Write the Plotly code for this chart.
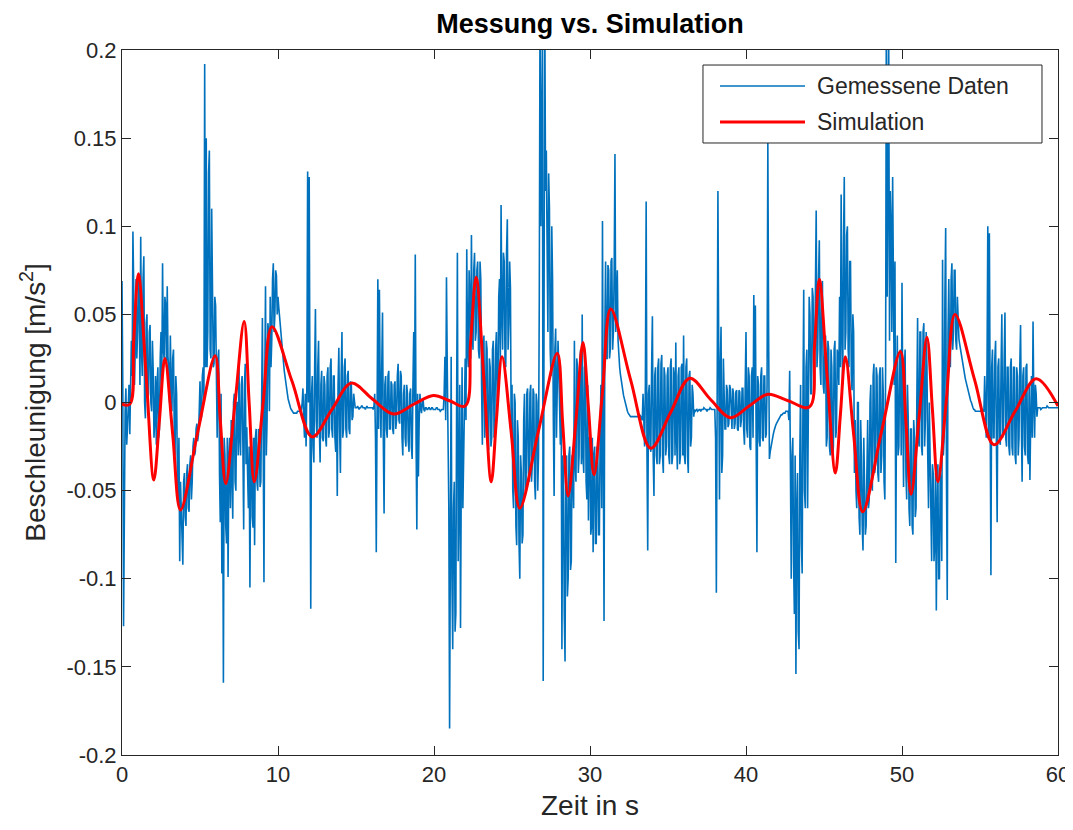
import numpy as np
import plotly.graph_objects as go

# Measured acceleration (thousandths of m/s^2) at t = 0.0, 0.1, ..., 60.0 s
gemessen_milli = [
    69, -127, -5, -24, 6, -18, 35, 97, 10, 70,
    40, 60, 94, 15, 83, -9, 50, 5, 44, -5,
    18, -10, -24, 20, -15, 40, 79, 25, 55, 66,
    20, 38, -5, 30, -30, 5, -55, -90, -60, -92,
    -40, -70, -35, -62, -30, -45, -20, -28, -12, -18,
    12, -8, 20, 192, 150, 40, 143, 25, 74, 22,
    55, -20, 30, -68, -97, -159, -30, -80, -99, -20,
    -10, -66, 5, -50, 0, 20, -30, 15, -72, 22,
    -14, -60, -105, -20, -71, -81, -15, -50, -20, -45,
    48, -102, 66, -10, 40, 60, 35, 79, 50, 72,
    60, 48, 39, 28, 18, 10, 5, 0, -3, -5,
    -6, -6, -6, -5, -5, -4, 8, -20, -25, 131,
    128, -117, 15, -34, 53, -20, 35, -34, 18, -22,
    10, -25, 20, -15, 25, -20, 15, -28, -53, 31,
    -40, 40, -15, 25, -20, 18, -18, 10, -8, 0,
    -3, -2, -4, -3, -2, -3, -4, -2, -3, -3,
    -3, -4, 5, -85, 70, 64, -20, 51, -63, 15,
    -20, 18, -15, 10, -18, 12, -10, 22, -12, 15,
    -30, 10, -25, 5, -28, 8, -32, 40, 84, -72,
    -42, 5, -6, 2, -5, -3, -4, -3, -4, -3,
    -4, -4, -3, -4, -5, -4, -4, 26, 71, -22,
    -185, 26, -140, -45, -120, 85, -60, -128, 20, -30,
    25, 87, 20, 60, 95, 30, 85, 40, 80, 25,
    70, -24, 38, -5, 30, -27, 20, -20, 35, -10,
    40, 10, 70, 112, 30, 80, 20, 104, 45, 65,
    10, -60, 0, -81, -20, -100, -40, -75, 5, -50,
    8, -45, 10, -35, 5, -55, 0, -30, 240, 150,
    -158, 230, 143, 40, 110, 15, 70, -53, 42, 5,
    20, -24, -140, -40, -147, -30, -100, -25, -90, -35,
    35, -45, 20, -30, 30, 50, -40, 22, -55, -67,
    -20, -70, -85, -25, -80, -30, -75, 10, 103, -124,
    80, 25, 75, 30, 82, 40, 141, 70, 35, 20,
    12, 7, 2, -2, -5, -7, -8, -8, -8, -8,
    -8, -8, -7, -8, 5, -25, 114, -84, 10, -28,
    49, -53, 20, -35, 25, -30, 27, -40, 15, -25,
    20, -35, 25, -30, 15, 34, -38, 20, -30, 22,
    38, -35, 25, -40, 18, -20, 5, -4, -4, -5,
    -4, -5, -4, -3, -4, -5, -4, -3, -4, -4,
    -4, -108, 120, -55, 43, -30, 10, -15, 7, -12,
    8, -15, 5, -12, 7, -16, 6, -10, 8, -24,
    40, -20, 15, -27, 20, 61, 55, -85, 10, -25,
    20, -22, 15, -18, 148, -32, -25, -20, -16, -13,
    -11, -9, -8, -7, -6, -6, -5, -5, 18, -100,
    -20, -120, -154, -40, -140, 10, -97, 64, -60, 30,
    0, 50, 5, 60, 20, 109, 30, 92, 10, 69,
    5, 38, -20, 30, -30, 20, -25, 35, -15, 25,
    60, 118, 10, 128, 40, 100, 20, 80, 7, 40,
    -10, -60, 0, -75, -30, -84, -40, -70, -10, -55,
    10, -50, 22, -35, 15, -45, 20, -30, 5, -55,
    240, 150, 35, 100, 128, 10, -91, 38, -25, 30,
    68, -48, 30, -55, -10, -70, -15, -75, -20, -60,
    48, -25, 40, -30, 45, -10, 20, -60, -30, -90,
    -40, -80, -118, -35, -100, -50, 81, -20, 99, -112,
    70, 20, 79, 40, 75, 30, 40, 33, 27, 22,
    17, 12, 8, 4, 1, -2, -4, -5, -5, -5,
    -5, -4, -5, 15, -20, 100, 96, -98, 30, -20,
    35, -68, 25, -24, 50, -15, 51, -25, 20, -30,
    25, -30, 20, -35, 15, -20, 44, -45, 20, -30,
    22, -35, -44, 15, 46, -20, 5, -3, -3, -4,
    -3, -3, -3, -2, -3, -3, -3, -3, -3, -3,
    -3,
]

# Measured acceleration (thousandths of m/s^2) at t = 0.05, 0.15, ..., 59.95 s
gemessen_zwischen_milli = [
    10, -20, 8, -15, 10, 5, 15, 65, 30, 25,
    70, 10, 30, 70, 0, 45, 0, 40, 0, 35,
    -20, 15, 10, -20, 25, 10, 30, 60, 20, 25,
    0, 10, 25, -15, 15, -40, -20, -45, -85, -45,
    -65, -40, -60, -35, -55, -25, -30, -15, -22, -5,
    -10, 15, 0, 20, 20, 130, 30, 110, 20, 60,
    0, 25, -40, 5, -30, -20, -70, -20, -30, -60,
    -40, 0, -45, 0, -30, -20, 10, -25, 10, -35,
    -40, -25, -30, -65, -20, -20, -45, -15, -48, 0,
    -20, 10, -30, 45, -5, 20, 70, 40, 75, 50,
    54, 44, 33, 23, 14, 7, 2, -2, -4, -6,
    -6, -6, -5, -5, -4, 0, -10, 5, 10, 0,
    0, 5, -25, 20, -10, 20, -15, 10, -20, 15,
    -20, 15, -20, 20, -15, 15, -20, 0, 10, -15,
    15, -20, 20, -15, 15, -15, 12, -10, 5, -3,
    -3, -3, -3, -2, -3, -3, -3, -3, -3, -3,
    -3, -2, -20, 0, -15, 10, 20, -20, 10, -15,
    15, -15, 12, -15, 10, -15, 15, -10, 18, -20,
    5, -20, 10, -22, 5, -25, 10, 0, -20, 5,
    -10, -3, 0, -4, -3, -4, -3, -4, -3, -4,
    -4, -3, -4, -4, -4, -4, 5, -10, 20, -60,
    -50, -100, -60, -130, 0, -90, 10, -40, -60, 20,
    -10, 30, 75, 25, 40, 75, 35, 75, 30, 80,
    10, 30, -20, 35, -20, 25, -25, 30, -20, 30,
    0, 60, 20, 50, 85, 25, 85, 30, 80, -20,
    -50, 5, -70, -10, -80, -30, -80, -10, -50, 5,
    -40, 5, -45, 8, -45, 5, -50, 60, 100, 200,
    200, 120, 90, 130, 30, 100, -10, 30, -20, 35,
    -20, 15, -30, -120, -40, -110, -30, -95, -30, -60,
    -35, 25, -40, 25, -35, -30, 20, -45, 10, -20,
    -75, -20, -30, -80, -25, -75, -20, -60, -20, 40,
    25, 78, 25, 80, 30, 75, 40, 75, 25, 16,
    9, 4, 0, -4, -6, -8, -8, -8, -8, -8,
    -8, -8, -8, -10, -20, 10, -25, 5, -25, 20,
    -30, 15, -30, 20, -35, 22, -30, 20, -30, 15,
    -30, 20, -35, 20, -30, -20, 15, -35, 20, -30,
    -30, 20, -30, 15, -25, 10, -8, -5, -4, -4,
    -4, -4, -4, -4, -4, -4, -4, -4, -4, -4,
    -20, 0, 30, 20, -40, 25, -15, 10, -14, 10,
    -14, 8, -15, 6, -15, 7, -14, 8, -15, 10,
    -15, 20, -25, 15, -20, 0, -20, 15, -22, 15,
    -20, 15, -20, 10, 40, -28, -22, -18, -14, -12,
    -10, -8, -7, -6, -6, -5, -5, -10, -40, -30,
    -90, -30, -60, -130, -30, -80, 0, -50, 20, -60,
    60, 5, 65, 10, 60, 20, 70, 20, 65, 10,
    30, -25, 35, -25, 30, -30, 30, -20, 30, 10,
    20, 40, 90, 30, 95, 30, 80, 15, 50, -40,
    -50, 0, -65, -10, -70, -20, -75, -20, -60, 0,
    -45, 15, -40, 20, -40, 15, -40, 20, -45, 20,
    60, 200, 120, 40, 30, 80, 0, -30, 25, -30,
    0, 20, -40, 10, -60, -15, -70, -10, -65, 0,
    -20, 40, -25, 40, -25, 40, -30, 0, -80, -35,
    -90, -40, -60, -100, -40, -90, -30, 60, -40, 40,
    25, 70, 30, 75, 35, 60, 36, 30, 24, 19,
    14, 10, 6, 2, 0, -3, -4, -5, -5, -5,
    -5, -4, -5, -15, 20, -20, 0, 20, -20, 25,
    -20, 20, -20, 20, -20, 25, -20, 20, -25, 20,
    -25, 20, -30, 20, -30, 20, -10, 15, -25, 20,
    -30, 10, -10, -20, 0, 10, -8, -3, -3, -3,
    -3, -3, -3, -3, -3, -3, -3, -3, -3, -3,
]

# Merge both sample sets into one time-ordered series (0.05 s spacing)
t_main = np.round(np.arange(len(gemessen_milli)) * 0.1, 2)
t_mid = np.round(np.arange(len(gemessen_zwischen_milli)) * 0.1 + 0.05, 2)
gemessen_t = []
gemessen = []
for i in range(len(gemessen_milli)):
    gemessen_t.append(t_main[i]); gemessen.append(gemessen_milli[i] / 1000)
    if i < len(gemessen_zwischen_milli):
        gemessen_t.append(t_mid[i]); gemessen.append(gemessen_zwischen_milli[i] / 1000)

# Simulation (key points, in s and m/s^2)
sim_t = [0.0, 0.5, 0.75, 1.05, 1.55, 2.04, 2.4, 2.75, 3.25, 3.75, 4.85, 5.97,
         6.3, 6.65, 7.25, 7.83, 8.15, 8.48, 9.05, 9.61, 10.9, 12.2, 13.45, 14.7,
         16.05, 17.4, 18.7, 19.96, 21.0, 22.0, 22.35, 22.7, 23.2, 23.67, 24.0,
         24.36, 24.95, 25.5, 26.7, 27.9, 28.25, 28.6, 29.1, 29.55, 29.9, 30.26,
         30.8, 31.33, 32.6, 33.9, 35.15, 36.4, 37.7, 39.0, 40.2, 41.4, 42.7,
         44.06, 44.4, 44.7, 45.2, 45.73, 46.05, 46.37, 46.9, 47.48, 48.7, 49.9,
         50.25, 50.58, 51.1, 51.6, 51.95, 52.3, 52.85, 53.4, 54.65, 55.9, 57.25,
         58.6, 60.0]
sim_v = [-0.001, -0.001, 0.035, 0.073, 0.015, -0.044, -0.010, 0.025, -0.018, -0.061,
         -0.017, 0.0265, -0.010, -0.046, 0.000, 0.046, 0.000, -0.045, 0.000, 0.043,
         0.012, -0.0195, -0.004, 0.011, 0.002, -0.0065, -0.001, 0.004, 0.001, -0.002,
         0.035, 0.071, 0.013, -0.045, -0.010, 0.026, -0.017, -0.060, -0.016, 0.028,
         -0.012, -0.053, -0.010, 0.034, -0.003, -0.041, 0.006, 0.053, 0.013, -0.026,
         -0.006, 0.0138, 0.002, -0.0086, -0.002, 0.0047, 0.001, -0.0026, 0.033, 0.070,
         0.015, -0.040, -0.007, 0.026, -0.018, -0.062, -0.016, 0.029, -0.011, -0.052,
         -0.008, 0.037, -0.004, -0.045, 0.002, 0.050, 0.013, -0.024, -0.005, 0.0135,
         -0.002]

x_ticks = [0, 10, 20, 30, 40, 50, 60]
y_ticks = [-0.2, -0.15, -0.1, -0.05, 0, 0.05, 0.1, 0.15, 0.2]
y_ticktext = ["-0.2", "-0.15", "-0.1", "-0.05", "0", "0.05", "0.1", "0.15", "0.2"]

BLUE = "#0072BD"
RED = "#FF0000"
INK = "#262626"
FONT = "Liberation Sans, Arial, Helvetica, sans-serif"

# The page body has an 8 px margin, so the figure is sized to fit the 1073x830 window
W, H = 1065, 822

fig = go.Figure()
fig.add_trace(go.Scatter(x=gemessen_t, y=gemessen, mode="lines", name="Gemessene Daten",
                         line=dict(color=BLUE, width=1.6), showlegend=False))
fig.add_trace(go.Scatter(x=sim_t, y=sim_v, mode="lines", name="Simulation",
                         line=dict(color=RED, width=3, shape="spline", smoothing=1.0),
                         showlegend=False))

axis_common = dict(showgrid=False, zeroline=False, showline=True, linecolor=INK,
                   linewidth=1, mirror="ticks", ticks="inside", ticklen=9,
                   tickcolor=INK, tickwidth=1, automargin=False,
                   tickfont=dict(size=22, color=INK, family=FONT))

fig.update_xaxes(range=[0, 60], tickvals=x_ticks, **axis_common,
                 title=dict(text="Zeit in s", font=dict(size=28, color=INK, family=FONT), standoff=8))
fig.update_yaxes(range=[-0.2, 0.2], tickvals=y_ticks, ticktext=y_ticktext, **axis_common,
                 title=dict(text="Beschleunigung [m/s<sup>2</sup>]",
                            font=dict(size=28, color=INK, family=FONT), standoff=12))

# Legend box (paper coordinates of the plot area)
lx0, lx1, ly0, ly1 = 0.6207, 0.9829, 0.8681, 0.9787
fig.add_shape(type="rect", xref="paper", yref="paper", x0=lx0, x1=lx1, y0=ly0, y1=ly1,
              fillcolor="white", line=dict(color=INK, width=1), layer="above")
fig.add_shape(type="line", xref="paper", yref="paper", x0=0.6389, x1=0.7297, y0=0.9489, y1=0.9489,
              line=dict(color=BLUE, width=1.5), layer="above")
fig.add_shape(type="line", xref="paper", yref="paper", x0=0.6389, x1=0.7297, y0=0.8979, y1=0.8979,
              line=dict(color=RED, width=3), layer="above")
fig.add_annotation(xref="paper", yref="paper", x=0.7404, y=0.9489, xanchor="left", yanchor="middle",
                   text="Gemessene Daten", showarrow=False, font=dict(size=23, color=INK, family=FONT))
fig.add_annotation(xref="paper", yref="paper", x=0.7404, y=0.8979, xanchor="left", yanchor="middle",
                   text="Simulation", showarrow=False, font=dict(size=23, color=INK, family=FONT))

fig.update_layout(
    width=W, height=H,
    margin=dict(l=114, r=15, t=42, b=75, autoexpand=False),
    paper_bgcolor="white", plot_bgcolor="white",
    font=dict(family=FONT, color=INK),
    title=dict(text="<b>Messung vs. Simulation</b>", x=0.5, xref="paper", xanchor="center",
               y=1 - 16 / H, yref="container", yanchor="middle",
               font=dict(size=27, color="#000000", family=FONT)),
)

fig.write_html("out.html")
